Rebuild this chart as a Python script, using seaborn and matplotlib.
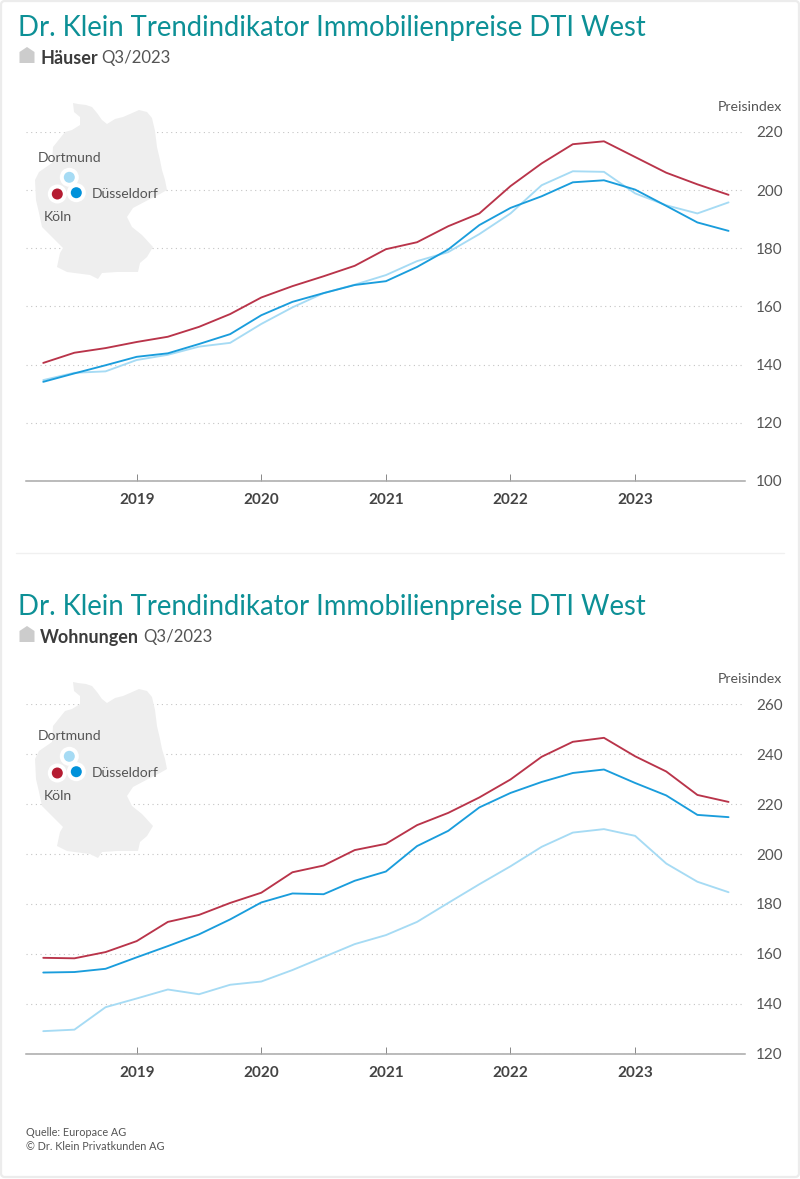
import pandas as pd
import seaborn as sns
import matplotlib.pyplot as plt
from matplotlib.patches import FancyBboxPatch, Polygon, Circle

# quarters from Q2/2018 on, drawn at 2018.25, 2018.5 ...
quarters = [2018.25 + 0.25 * i for i in range(23)]
years = [2019, 2020, 2021, 2022, 2023]

haus_koeln = [140.6, 144.1, 145.7, 147.8, 149.6, 153.0, 157.4, 163.1, 167.0, 170.4, 174.0, 179.7,
              182.1, 187.6, 192.0, 201.4, 209.2, 215.8, 216.8, 211.4, 206.0, 202.0, 198.4]
haus_duesseldorf = [134.1, 137.0, 139.8, 142.7, 143.9, 147.1, 150.5, 157.0, 161.6, 164.6, 167.4, 168.7,
                    173.6, 179.6, 188.0, 193.9, 197.9, 202.7, 203.4, 200.2, 194.6, 188.9, 186.0]
haus_dortmund = [134.7, 137.2, 137.7, 141.6, 143.4, 146.2, 147.5, 154.0, 159.7, 164.6, 167.5, 170.8,
                 175.6, 178.7, 184.9, 192.0, 201.7, 206.5, 206.3, 198.9, 194.8, 192.0, 195.8]

wohn_koeln = [158.4, 158.2, 160.7, 165.1, 172.8, 175.6, 180.4, 184.5, 192.7, 195.4, 201.6, 204.1,
              211.6, 216.5, 222.7, 229.9, 239.0, 245.0, 246.6, 239.2, 233.1, 223.7, 220.9]
wohn_duesseldorf = [152.5, 152.7, 154.0, 158.6, 163.1, 167.8, 173.8, 180.6, 184.2, 183.9, 189.3, 193.0,
                    203.2, 209.3, 218.7, 224.5, 228.9, 232.5, 233.9, 228.5, 223.5, 215.7, 214.8]
wohn_dortmund = [129.0, 129.6, 138.6, 142.1, 145.7, 143.8, 147.6, 148.9, 153.5, 158.7, 163.9, 167.5,
                 172.8, 180.4, 187.9, 195.1, 202.9, 208.6, 210.0, 207.3, 196.2, 188.9, 184.7]

haus_ticks = [100, 120, 140, 160, 180, 200, 220]
wohn_ticks = [120, 140, 160, 180, 200, 220, 240, 260]

TITLE = 'Dr. Klein Trendindikator Immobilienpreise DTI West'
TEAL = '#0d9096'
GREY = '#555555'
COLORS = {'Dortmund': '#a6dbf4', 'Köln': '#b9344a', 'Düsseldorf': '#1a9ddc'}
W, H = 800, 1179

# rough outline of Germany in pixels, top panel
GERMANY = [(73, 103), (78, 104), (86, 105), (92, 107), (97, 113), (102, 120), (107, 124), (115, 119), (123, 117),
           (130, 114), (139, 110), (147, 112), (152, 118), (155, 131), (157, 147), (160, 160), (162, 170), (165, 180),
           (167, 190), (160, 194), (150, 199), (133, 208), (127, 217), (132, 227), (142, 235), (153, 247), (147, 257),
           (140, 263), (138, 272), (117, 272), (102, 273), (98, 279), (90, 275), (67, 272), (57, 267), (60, 253),
           (63, 248), (53, 238), (42, 227), (39, 213), (36, 200), (35, 180), (39, 172), (52, 163), (53, 147),
           (65, 132), (72, 130), (80, 125), (80, 117), (74, 112)]


def make_frame(values):
    frame = pd.DataFrame({'quartal': quarters, 'Köln': values[0], 'Dortmund': values[1], 'Düsseldorf': values[2]})
    return frame.melt(id_vars='quartal', var_name='stadt', value_name='index')


def draw_panel(fig, values, ticks, top, bottom):
    left, right = 26, 745
    ax = fig.add_axes([left / W, 1 - bottom / H, (right - left) / W, (bottom - top) / H])
    sns.lineplot(data=make_frame(values), x='quartal', y='index', hue='stadt', hue_order=list(COLORS),
                 palette=COLORS, legend=False, linewidth=1.35, errorbar=None, ax=ax, clip_on=False)
    ax.set_xlim(2019 + (left - 136.7) / 124.6, 2019 + (right - 136.7) / 124.6)
    ax.set_ylim(ticks[0], ticks[-1])
    ax.set_xlabel('')
    ax.set_ylabel('')
    sns.despine(ax=ax, left=True, top=True, right=True)
    ax.spines['bottom'].set_color('#a8a8a8')
    ax.spines['bottom'].set_linewidth(1.1)

    ax.set_xticks(years)
    ax.set_xticklabels(years, fontweight='bold', fontsize=11, color='#444444')
    ax.tick_params(axis='x', direction='in', length=5, width=0.7, color='#888888', pad=9, bottom=True)

    ax.yaxis.tick_right()
    ax.set_yticks(ticks)
    ax.tick_params(axis='y', length=0, pad=27.2, labelsize=11, labelcolor=GREY)
    for label in ax.get_yticklabels():
        label.set_ha('right')

    ax.set_axisbelow(True)
    ax.yaxis.grid(True, color='#c4c4c4', linewidth=0.8, linestyle=(0, (1, 3.2)))
    ax.xaxis.grid(False)
    ax.patch.set_alpha(0)
    return ax


def draw_head(over, fig, y_title, y_sub, name):
    over.text(18, y_title + 2, TITLE, color=TEAL, fontsize=19.85, va='center', ha='left')
    house = [(19.5, y_sub + 6), (19.5, y_sub - 5), (27, y_sub - 10), (34.5, y_sub - 5), (34.5, y_sub + 6)]
    over.add_patch(Polygon(house, closed=True, facecolor='#cccccc', edgecolor='none'))
    bold = over.text(40, y_sub + 1, name, color='#3c3c3c', fontsize=13, fontweight='bold', va='center', ha='left')
    box = bold.get_window_extent(fig.canvas.get_renderer())
    over.text(box.x1 + 4, y_sub + 1, 'Q3/2023', color=GREY, fontsize=12.1, va='center', ha='left')


def draw_map(over, dy):
    over.add_patch(Polygon([(x, y + dy) for x, y in GERMANY], closed=True, facecolor='#eeeeee', edgecolor='none',
                           zorder=2))
    spots = [('Dortmund', 69.3, 177.3), ('Köln', 57.3, 194.0), ('Düsseldorf', 76.3, 192.7)]
    dots = {'Dortmund': '#a6dbf4', 'Köln': '#b51c32', 'Düsseldorf': '#0091da'}
    for name, x, y in spots:
        over.add_patch(Circle((x, y + dy), 9.5, facecolor='white', edgecolor='none', zorder=3))
    for name, x, y in spots:
        over.add_patch(Circle((x, y + dy), 5.5, facecolor=dots[name], edgecolor='none', zorder=4))
    over.text(69.5, 157.5 + dy, 'Dortmund', color=GREY, fontsize=10.1, ha='center', va='center', zorder=5)
    over.text(91.5, 194 + dy, 'Düsseldorf', color=GREY, fontsize=10.1, ha='left', va='center', zorder=5)
    over.text(44, 217 + dy, 'Köln', color=GREY, fontsize=10.1, ha='left', va='center', zorder=5)


sns.set_theme(style='white')
plt.rcParams['font.family'] = ['Lato', 'DejaVu Sans']

fig = plt.figure(figsize=(W / 100, H / 100), dpi=100, facecolor='white')

draw_panel(fig, [haus_koeln, haus_dortmund, haus_duesseldorf], haus_ticks, 132, 481)
draw_panel(fig, [wohn_koeln, wohn_dortmund, wohn_duesseldorf], wohn_ticks, 704.4, 1053.6)

# everything that is not chart goes on a full size overlay, in pixels
over = fig.add_axes([0, 0, 1, 1])
over.set_xlim(0, W)
over.set_ylim(H, 0)
over.axis('off')
over.patch.set_alpha(0)

over.add_patch(FancyBboxPatch((1, 1), W - 2, H - 3, boxstyle='round,pad=0,rounding_size=4', facecolor='none',
                              edgecolor='#ececec', linewidth=1.6))
over.plot([16, 784], [552.7, 552.7], color='#f0f0f0', linewidth=1)

draw_head(over, fig, 26, 57, 'Häuser')
draw_head(over, fig, 605, 636, 'Wohnungen')
draw_map(over, 0)
draw_map(over, 579)

over.text(782, 107, 'Preisindex', color=GREY, fontsize=10.2, ha='right', va='center')
over.text(782, 679, 'Preisindex', color=GREY, fontsize=10.2, ha='right', va='center')
over.text(26, 1132, 'Quelle: Europace AG', color=GREY, fontsize=7.8, ha='left', va='center')
over.text(26, 1146, '© Dr. Klein Privatkunden AG', color=GREY, fontsize=7.8, ha='left', va='center')

fig.savefig('out.png', dpi=100)
